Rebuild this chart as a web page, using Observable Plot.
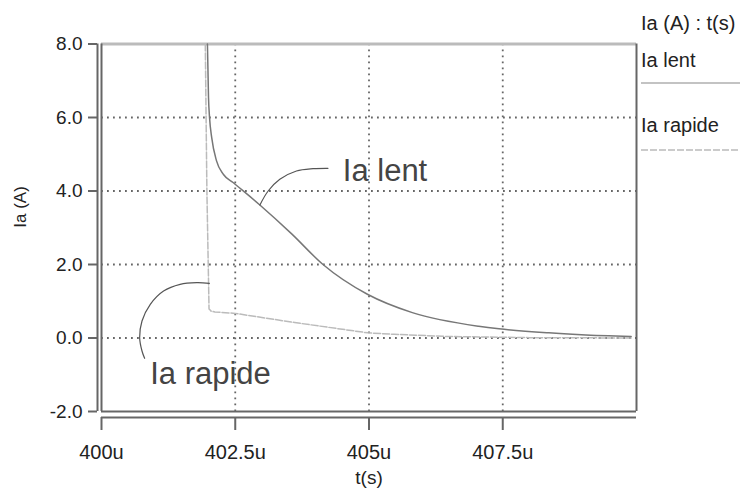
<!DOCTYPE html>
<html>
<head>
<meta charset="utf-8">
<script src="https://cdn.jsdelivr.net/npm/d3@7"></script>
<script src="https://cdn.jsdelivr.net/npm/@observablehq/plot@0.6"></script>
<style>
  html, body { margin: 0; padding: 0; background: #fff; }
  #wrap { position: relative; width: 740px; height: 492px; font-family: "Liberation Sans", Arial, sans-serif; }
  .leg { position: absolute; left: 641px; font-size: 20px; color: #222; white-space: nowrap; line-height: 1; }
  .legline { position: absolute; left: 641px; }
</style>
</head>
<body>
<div id="wrap">
  <div id="chart"></div>
  <div class="leg" style="top:13px">Ia (A) : t(s)</div>
  <div class="leg" style="top:50px">Ia lent</div>
  <svg class="legline" style="top:78px" width="99" height="10"><line x1="0" x2="99" y1="5" y2="5" stroke="#888" stroke-width="1.2"/></svg>
  <div class="leg" style="top:115px">Ia rapide</div>
  <svg class="legline" style="top:145px" width="99" height="10"><line x1="0" x2="99" y1="5" y2="5" stroke="#bbb" stroke-width="1.5" stroke-dasharray="7,2"/></svg>
</div>
<script>
// ---- data (t in µs, Ia in A) ----
const tLent = [401.98, 402.00, 402.02, 402.06, 402.15, 402.28, 402.46, 402.96, 403.55, 404.14, 404.97, 405.81, 407.05, 407.43, 408.36, 408.97, 409.9];
const iaLent = [8.0, 6.55, 5.99, 5.45, 4.82, 4.45, 4.23, 3.62, 2.84, 2.0, 1.19, 0.69, 0.32, 0.25, 0.14, 0.09, 0.04];

const tRapide = [401.94, 401.97, 402.01, 402.03, 402.05, 402.12, 402.5, 403.61, 404.98, 405.47, 406.5, 408.0, 409.9];
const iaRapide = [8.0, 4.0, 0.79, 0.76, 0.73, 0.71, 0.67, 0.42, 0.14, 0.10, 0.04, 0.01, 0.0];

// annotation connectors
const tConnLent = [404.233, 403.954, 403.644, 403.333, 403.115, 402.961];
const iaConnLent = [4.617, 4.607, 4.544, 4.318, 4.0, 3.62];
const tConnRapide = [402.016, 401.781, 401.470, 401.160, 400.912, 400.757, 400.713, 400.757, 400.806];
const iaConnRapide = [1.488, 1.505, 1.461, 1.279, 0.917, 0.463, 0.008, -0.354, -0.552];

const annotLabels = ["Ia lent", "Ia rapide"];
const annotT = [404.51, 400.91];
const annotIa = [4.54, -0.98];

const xTicks = [400, 402.5, 405, 407.5];
const xTickLabels = ["400u", "402.5u", "405u", "407.5u"];
const yTicks = [-2, 0, 2, 4, 6, 8];
const xDomain = [400, 410];
const yDomain = [-2, 8];
const xLabel = "t(s)";
const yLabel = "Ia (A)";

const zip = (ts, vs) => ts.map((t, i) => ({t, v: vs[i]}));
const lent = zip(tLent, iaLent);
const rapide = zip(tRapide, iaRapide);
const connLent = zip(tConnLent, iaConnLent);
const connRapide = zip(tConnRapide, iaConnRapide);
const annots = annotLabels.map((s, i) => ({s, t: annotT[i], v: annotIa[i]}));

const chart = Plot.plot({
  width: 740,
  height: 492,
  marginLeft: 101,
  marginRight: 104,
  marginTop: 43.5,
  marginBottom: 81,
  style: {fontFamily: "Liberation Sans, Arial, sans-serif", background: "#fff", color: "#222"},
  x: {domain: xDomain},
  y: {domain: yDomain},
  marks: [
    Plot.gridX(xTicks.slice(1), {stroke: "#666", strokeOpacity: 1, strokeWidth: 1.8, strokeDasharray: "1.8,4.2"}),
    Plot.gridY(yTicks.slice(1, -1), {stroke: "#666", strokeOpacity: 1, strokeWidth: 1.8, strokeDasharray: "1.8,4.2"}),
    // frame
    Plot.ruleY([yDomain[1]], {stroke: "#bbb", strokeWidth: 3}),
    Plot.ruleX([xDomain[0]], {stroke: "#666", strokeWidth: 2}),
    Plot.ruleX([xDomain[1]], {stroke: "#666", strokeWidth: 2}),
    Plot.ruleY([yDomain[0]], {stroke: "#666", strokeWidth: 2}),
    // detached axis lines
    Plot.ruleX([xDomain[0]], {stroke: "#666", strokeWidth: 2, dx: -4}),
    Plot.ruleY([yDomain[0]], {stroke: "#666", strokeWidth: 2, dy: 6}),
    Plot.axisY(yTicks, {tickSize: 9, tickPadding: 6, dx: -4, stroke: "#666", strokeWidth: 2, fontSize: 19, tickFormat: d => d.toFixed(1), label: null}),
    Plot.axisX(xTicks, {tickSize: 13, tickPadding: 14, dy: 6, stroke: "#666", strokeWidth: 2, fontSize: 20, tickFormat: d => xTickLabels[xTicks.indexOf(d)], label: null}),
    Plot.text([xLabel], {frameAnchor: "bottom", dy: 72, fontSize: 19, fill: "#222"}),
    Plot.text([yLabel], {frameAnchor: "left", dx: -81, rotate: -90, fontSize: 17, fill: "#222"}),
    // curves
    Plot.line(rapide, {x: "t", y: "v", stroke: "#bbb", strokeWidth: 1.5, strokeDasharray: "7,2"}),
    Plot.line(lent, {x: "t", y: "v", stroke: "#777", strokeWidth: 1.5, curve: "monotone-x"}),
    // annotations
    Plot.line(connLent, {x: "t", y: "v", stroke: "#555", strokeWidth: 1.2, curve: "catmull-rom"}),
    Plot.line(connRapide, {x: "t", y: "v", stroke: "#555", strokeWidth: 1.2, curve: "catmull-rom"}),
    Plot.text(annots, {x: "t", y: "v", text: "s", textAnchor: "start", fontSize: 31, fill: "#444"})
  ]
});
document.getElementById("chart").appendChild(chart);
</script>
</body>
</html>
